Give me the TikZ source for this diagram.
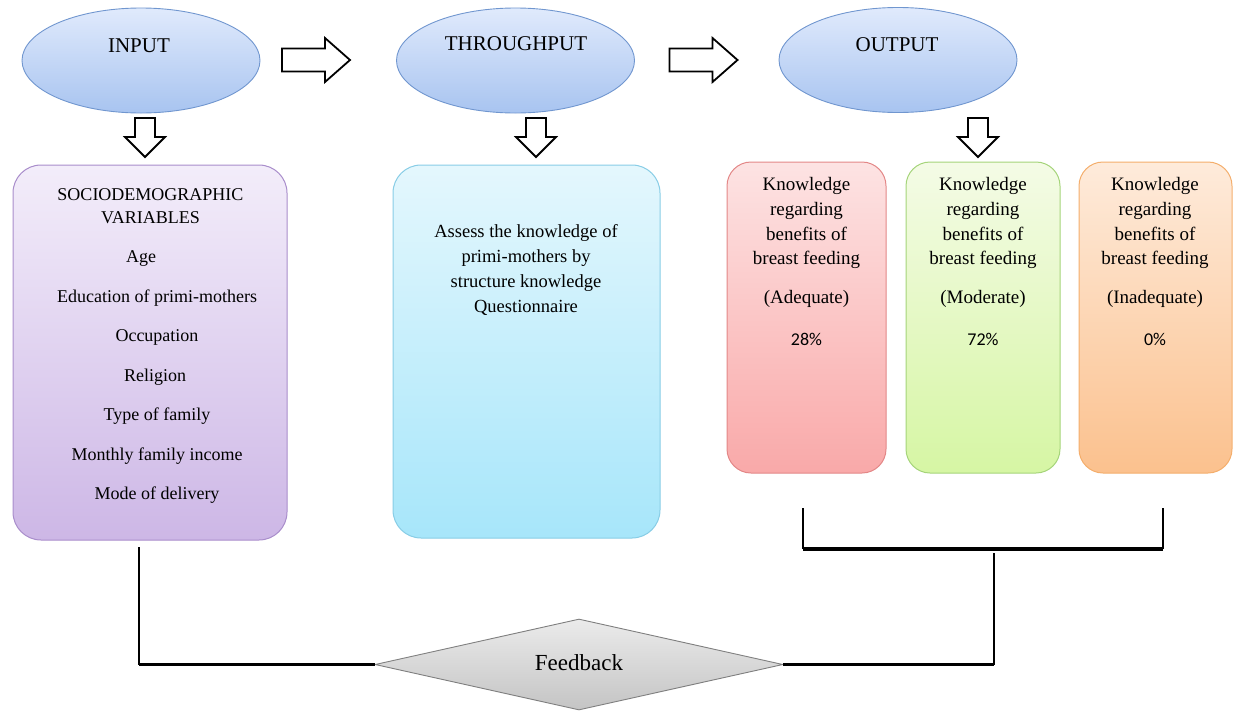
\documentclass[tikz,border=0pt]{standalone}
\usepackage{fontspec}
\setmainfont{Liberation Serif}
\newfontfamily\pctfont{Carlito}
\usetikzlibrary{shapes.geometric}
\definecolor{ellT}{HTML}{E0EAFC}
\definecolor{ellB}{HTML}{A8C4F0}
\definecolor{ellD}{HTML}{7096CF}
\definecolor{purT}{HTML}{F3EDFA}
\definecolor{purB}{HTML}{CDB7E6}
\definecolor{purD}{HTML}{A98DCB}
\definecolor{cyT}{HTML}{E4F7FD}
\definecolor{cyB}{HTML}{A7E6FA}
\definecolor{cyD}{HTML}{88CDE6}
\definecolor{rdT}{HTML}{FDE3E3}
\definecolor{rdB}{HTML}{F9A9A9}
\definecolor{rdD}{HTML}{E38787}
\definecolor{grT}{HTML}{F4FBE6}
\definecolor{grB}{HTML}{D6F6A4}
\definecolor{grD}{HTML}{A5D47A}
\definecolor{orT}{HTML}{FEEBDB}
\definecolor{orB}{HTML}{FBC18E}
\definecolor{orD}{HTML}{F4AE6C}
\definecolor{dmT}{HTML}{EBEBEB}
\definecolor{dmB}{HTML}{C4C4C4}
\definecolor{dmD}{HTML}{7F7F7F}
\newcommand{\blkright}[1]{\draw[blkarrow] (#1) ++(-34,-11.5) -- ++(43,0) -- ++(0,-10.5) -- ++(25,22) -- ++(-25,22) -- ++(0,-10.5) -- ++(-43,0) -- cycle;}
\newcommand{\blkdown}[1]{\draw[blkarrow] (#1) ++(-10,-19.5) -- ++(20,0) -- ++(0,19) -- ++(10,0) -- ++(-20,20) -- ++(-20,-20) -- ++(10,0) -- cycle;}
\newcommand{\knowtext}[4]{%
  \node[otxt] (#4k1) at (#1,190) {Knowledge};
  \node[otxt] (#4k2) at (#1,215) {regarding};
  \node[otxt] (#4k3) at (#1,240) {benefits of};
  \node[otxt] (#4k4) at (#1,264) {breast feeding};
  \node[otxt] (#4q) at (#1,303) {(#2)};
  \node[ptxt] (#4p) at (#1,345) {#3\%};
}
\begin{document}
\begin{tikzpicture}[x=1pt,y=-1pt,
  ell/.style={ellipse, draw=ellD, line width=0.9pt, top color=ellT, bottom color=ellB, minimum width=238pt, minimum height=105pt, inner sep=0pt},
  ttl/.style={anchor=base, inner sep=0pt, font=\fontsize{21}{24}\selectfont},
  box/.style={draw, line width=1pt, rounded corners=28pt, inner sep=0pt},
  btxt/.style={anchor=base, inner sep=0pt, font=\fontsize{18}{22}\selectfont},
  ctxt/.style={anchor=base, inner sep=0pt, font=\fontsize{18.5}{22}\selectfont},
  otxt/.style={anchor=base, inner sep=0pt, font=\fontsize{19}{22}\selectfont},
  ptxt/.style={anchor=base, inner sep=0pt, font=\pctfont\fontsize{18}{22}\selectfont},
  blkarrow/.style={draw=black, line width=1.8pt, fill=white, line join=miter},
  thinline/.style={draw=black, line width=1.8pt},
  thickline/.style={draw=black, line width=3.8pt}
]
\useasboundingbox (0,0) rectangle (1233,710);

% ellipses
\node[ell] (inp) at (141,60.5) {};
\node[ell] (thr) at (515.5,60.5) {};
\node[ell] (out) at (898,60) {};
\node[ttl] (tinp) at (139,52) {INPUT};
\node[ttl] (tthr) at (516,50) {THROUGHPUT};
\node[ttl] (tout) at (897,51) {OUTPUT};

% block arrows
\coordinate (ra1) at (316,60);
\coordinate (ra2) at (703.5,60);
\blkright{ra1}
\blkright{ra2}
\coordinate (da1) at (145,137.5);
\coordinate (da2) at (536,137.5);
\coordinate (da3) at (978,137.5);
\blkdown{da1}
\blkdown{da2}
\blkdown{da3}

% boxes
\node[box, draw=purD, top color=purT, bottom color=purB, minimum width=274pt, minimum height=375pt] (pbox) at (150,352.5) {};
\node[box, draw=cyD, top color=cyT, bottom color=cyB, minimum width=267pt, minimum height=373pt] (cbox) at (526.5,351.5) {};
\node[box, draw=rdD, top color=rdT, bottom color=rdB, rounded corners=24pt, minimum width=159pt, minimum height=311pt] (rbox) at (806.5,317.5) {};
\node[box, draw=grD, top color=grT, bottom color=grB, rounded corners=24pt, minimum width=154pt, minimum height=311pt] (gbox) at (983,317.5) {};
\node[box, draw=orD, top color=orT, bottom color=orB, rounded corners=24pt, minimum width=153pt, minimum height=311pt] (obox) at (1155.5,317.5) {};

% purple text
\node[btxt] (ph1) at (150.5,200) {SOCIODEMOGRAPHIC};
\node[btxt] (ph2) at (150.5,223) {VARIABLES};
\foreach \t/\x/\y [count=\i] in {Age/141/262, Education of primi-mothers/157/302, Occupation/157/341, Religion/155/381, Type of family/157/420, Monthly family income/157/460, Mode of delivery/157/499}
  \node[btxt] (pv\i) at (\x,\y) {\t};

% cyan text
\node[ctxt] (c1) at (526,237) {Assess the knowledge of};
\node[ctxt] (c2) at (526,262) {primi-mothers by};
\node[ctxt] (c3) at (526,287) {structure knowledge};
\node[ctxt] (c4) at (526,312) {Questionnaire};

% output boxes text
\knowtext{806.5}{Adequate}{28}{r}
\knowtext{983}{Moderate}{72}{g}
\knowtext{1155}{Inadequate}{0}{o}

% feedback diamond
\node[diamond, draw=dmD, line width=0.9pt, top color=dmT, bottom color=dmB, minimum width=408pt, minimum height=91pt, inner sep=0pt] (fb) at (579,664.5) {};
\node[anchor=base, inner sep=0pt, font=\fontsize{23}{26}\selectfont] (fbt) at (579,670) {Feedback};

% bracket under output boxes
\coordinate (bl) at (803,508);
\coordinate (br) at (1163,508);
\coordinate (bm) at (994,549);
\draw[thinline] (bl) -- (bl |- bm);
\draw[thinline] (br) -- (br |- bm);
\draw[thickline] (bl |- bm) -- (br |- bm);

% feedback connectors
\coordinate (fl) at (139,547);
\coordinate (fr) at (994,553);
\draw[thinline] (fl) -- (fl |- fb.west);
\draw[thickline] (fl |- fb.west) -- (fb.west);
\draw[thickline] (fb.east) -- (fr |- fb.east);
\draw[thinline] (fr |- fb.east) -- (fr);
\end{tikzpicture}
\end{document}
